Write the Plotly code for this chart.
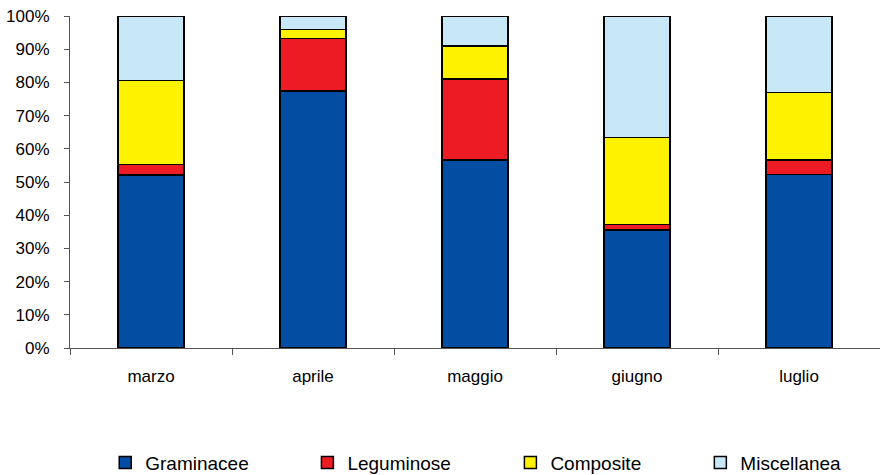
import plotly.graph_objects as go

months = ["marzo", "aprile", "maggio", "giugno", "luglio"]
graminacee = [52.1, 77.4, 56.6, 35.5, 52.2]
leguminose = [3.2, 15.8, 24.4, 1.7, 4.4]
composite = [25.2, 2.7, 9.9, 26.2, 20.4]
miscellanea = [19.5, 4.1, 9.1, 36.6, 23.0]
y_ticks = [0, 10, 20, 30, 40, 50, 60, 70, 80, 90, 100]

series = [
    ("Graminacee", graminacee, "#034EA2"),
    ("Leguminose", leguminose, "#ED1C24"),
    ("Composite", composite, "#FFF200"),
    ("Miscellanea", miscellanea, "#C8E8F8"),
]
legend_x = [0.0435, 0.2931, 0.5437, 0.7782]

font = "Liberation Sans, Arial, sans-serif"
fig = go.Figure()
legend_layout = {}
for i, (name, vals, col) in enumerate(series):
    lid = "legend" if i == 0 else f"legend{i+1}"
    fig.add_trace(go.Bar(
        x=months, y=vals, name=name, legend=lid,
        marker=dict(color=col, line=dict(color="black", width=1.5)),
    ))
    legend_layout[lid] = dict(
        orientation="h", x=legend_x[i], xanchor="left",
        y=0.026, yref="container", yanchor="middle",
        itemwidth=30, bgcolor="rgba(0,0,0,0)",
        font=dict(family=font, size=19, color="black"),
    )

fig.update_layout(
    barmode="stack",
    bargap=0.59,
    width=880, height=475,
    margin=dict(l=70, r=0, t=16, b=127),
    plot_bgcolor="white", paper_bgcolor="white",
    font=dict(family=font, size=17, color="black"),
    showlegend=True,
    xaxis=dict(
        showline=True, linecolor="#555", linewidth=1,
        ticks="outside", tickson="boundaries", ticklen=6, tickcolor="#555",
        tickfont=dict(size=17), showgrid=False, automargin=False,
        ticklabelstandoff=13,
    ),
    yaxis=dict(
        range=[0, 100], tickvals=y_ticks,
        ticktext=[f"{v}%" for v in y_ticks],
        showline=True, linecolor="#555", linewidth=1,
        ticks="outside", ticklen=5, tickcolor="#555",
        showgrid=False, zeroline=False, automargin=False,
        ticklabeloverflow="allow",
        tickfont=dict(size=17), ticklabelstandoff=11,
    ),
    **legend_layout,
)

fig.write_html("out.html", config={"displayModeBar": False},
               post_script="document.body.style.margin='0';")
